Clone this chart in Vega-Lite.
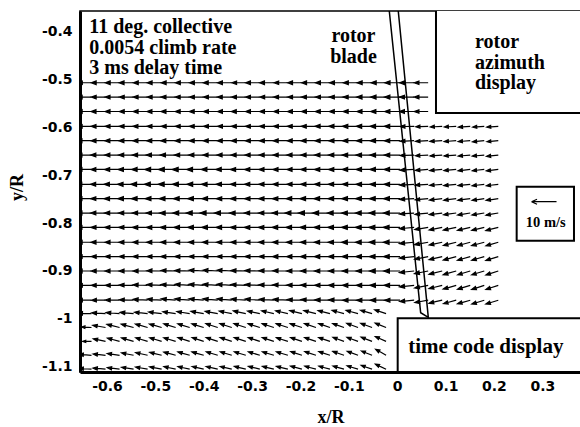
{
"$schema":"https://vega.github.io/schema/vega-lite/v6.json",
"width":501,"height":361,
"autosize":{"type":"none"},
"padding":{"left":80,"top":11,"right":0,"bottom":55},
"background":"white",
"config":{"view":{"stroke":"black","strokeWidth":1.5}},
"datasets":{"vec":[
{"x":-0.632,"y":-0.507,"s":5.6,"a":0},{"x":-0.603,"y":-0.507,"s":5.7,"a":0},{"x":-0.574,"y":-0.507,"s":5.7,"a":0},{"x":-0.545,"y":-0.507,"s":5.8,"a":0},{"x":-0.516,"y":-0.507,"s":5.7,"a":0},{"x":-0.487,"y":-0.507,"s":5.8,"a":0},{"x":-0.458,"y":-0.507,"s":5.8,"a":0},{"x":-0.429,"y":-0.507,"s":5.7,"a":0},{"x":-0.4,"y":-0.507,"s":5.7,"a":0},{"x":-0.371,"y":-0.507,"s":5.8,"a":0},{"x":-0.342,"y":-0.507,"s":5.7,"a":0},{"x":-0.313,"y":-0.507,"s":5.6,"a":0},{"x":-0.284,"y":-0.507,"s":5.7,"a":0},{"x":-0.255,"y":-0.507,"s":5.7,"a":0},{"x":-0.226,"y":-0.507,"s":5.6,"a":0},{"x":-0.197,"y":-0.507,"s":5.7,"a":0},{"x":-0.168,"y":-0.507,"s":5.7,"a":0},{"x":-0.139,"y":-0.507,"s":5.8,"a":0},{"x":-0.11,"y":-0.507,"s":5.8,"a":0},{"x":-0.081,"y":-0.507,"s":5.9,"a":0},{"x":-0.052,"y":-0.507,"s":6.0,"a":0},{"x":-0.023,"y":-0.507,"s":6.0,"a":0},{"x":0.006,"y":-0.507,"s":6.1,"a":0},{"x":0.035,"y":-0.507,"s":5.8,"a":0},{"x":0.064,"y":-0.507,"s":5.6,"a":0},
{"x":-0.632,"y":-0.537,"s":5.7,"a":0},{"x":-0.603,"y":-0.537,"s":5.7,"a":0},{"x":-0.574,"y":-0.537,"s":5.8,"a":0},{"x":-0.545,"y":-0.537,"s":5.7,"a":0},{"x":-0.516,"y":-0.537,"s":5.8,"a":0},{"x":-0.487,"y":-0.537,"s":5.8,"a":0},{"x":-0.458,"y":-0.537,"s":5.9,"a":0},{"x":-0.429,"y":-0.537,"s":5.8,"a":0},{"x":-0.4,"y":-0.537,"s":5.7,"a":0},{"x":-0.371,"y":-0.537,"s":5.7,"a":0},{"x":-0.342,"y":-0.537,"s":5.8,"a":0},{"x":-0.313,"y":-0.537,"s":5.7,"a":0},{"x":-0.284,"y":-0.537,"s":5.7,"a":0},{"x":-0.255,"y":-0.537,"s":5.6,"a":0},{"x":-0.226,"y":-0.537,"s":5.7,"a":0},{"x":-0.197,"y":-0.537,"s":5.7,"a":0},{"x":-0.168,"y":-0.537,"s":5.8,"a":0},{"x":-0.139,"y":-0.537,"s":5.8,"a":0},{"x":-0.11,"y":-0.537,"s":5.9,"a":0},{"x":-0.081,"y":-0.537,"s":6.0,"a":0},{"x":-0.052,"y":-0.537,"s":6.1,"a":0},{"x":-0.023,"y":-0.537,"s":6.1,"a":0},{"x":0.006,"y":-0.537,"s":6.2,"a":0},{"x":0.035,"y":-0.537,"s":5.9,"a":0},{"x":0.064,"y":-0.537,"s":5.6,"a":0},
{"x":-0.632,"y":-0.567,"s":5.7,"a":0},{"x":-0.603,"y":-0.567,"s":5.8,"a":0},{"x":-0.574,"y":-0.567,"s":5.8,"a":0},{"x":-0.545,"y":-0.567,"s":5.7,"a":0},{"x":-0.516,"y":-0.567,"s":5.8,"a":0},{"x":-0.487,"y":-0.567,"s":5.9,"a":0},{"x":-0.458,"y":-0.567,"s":5.9,"a":0},{"x":-0.429,"y":-0.567,"s":5.8,"a":0},{"x":-0.4,"y":-0.567,"s":5.8,"a":0},{"x":-0.371,"y":-0.567,"s":5.7,"a":0},{"x":-0.342,"y":-0.567,"s":5.7,"a":0},{"x":-0.313,"y":-0.567,"s":5.8,"a":0},{"x":-0.284,"y":-0.567,"s":5.7,"a":0},{"x":-0.255,"y":-0.567,"s":5.7,"a":0},{"x":-0.226,"y":-0.567,"s":5.7,"a":0},{"x":-0.197,"y":-0.567,"s":5.8,"a":0},{"x":-0.168,"y":-0.567,"s":5.8,"a":0},{"x":-0.139,"y":-0.567,"s":5.9,"a":0},{"x":-0.11,"y":-0.567,"s":5.9,"a":0},{"x":-0.081,"y":-0.567,"s":6.0,"a":0},{"x":-0.052,"y":-0.567,"s":6.1,"a":0},{"x":-0.023,"y":-0.567,"s":6.2,"a":0},{"x":0.006,"y":-0.567,"s":6.2,"a":0},{"x":0.035,"y":-0.567,"s":5.9,"a":0},{"x":0.064,"y":-0.567,"s":5.6,"a":0},
{"x":-0.632,"y":-0.598,"s":5.7,"a":0},{"x":-0.603,"y":-0.598,"s":5.8,"a":0},{"x":-0.574,"y":-0.598,"s":5.8,"a":0},{"x":-0.545,"y":-0.598,"s":5.8,"a":0},{"x":-0.516,"y":-0.598,"s":5.9,"a":0},{"x":-0.487,"y":-0.598,"s":5.9,"a":0},{"x":-0.458,"y":-0.598,"s":5.8,"a":0},{"x":-0.429,"y":-0.598,"s":5.8,"a":0},{"x":-0.4,"y":-0.598,"s":5.8,"a":0},{"x":-0.371,"y":-0.598,"s":5.7,"a":0},{"x":-0.342,"y":-0.598,"s":5.7,"a":0},{"x":-0.313,"y":-0.598,"s":5.8,"a":0},{"x":-0.284,"y":-0.598,"s":5.8,"a":0},{"x":-0.255,"y":-0.598,"s":5.8,"a":0},{"x":-0.226,"y":-0.598,"s":5.8,"a":0},{"x":-0.197,"y":-0.598,"s":5.9,"a":0},{"x":-0.168,"y":-0.598,"s":5.9,"a":0},{"x":-0.139,"y":-0.598,"s":6.0,"a":0},{"x":-0.11,"y":-0.598,"s":6.1,"a":0},{"x":-0.081,"y":-0.598,"s":6.2,"a":0},{"x":-0.052,"y":-0.598,"s":6.3,"a":0},{"x":-0.023,"y":-0.598,"s":6.4,"a":0},{"x":0.006,"y":-0.598,"s":6.3,"a":0},{"x":0.035,"y":-0.598,"s":5.6,"a":-1},{"x":0.064,"y":-0.598,"s":5.0,"a":-2},{"x":0.093,"y":-0.598,"s":4.8,"a":-3},{"x":0.122,"y":-0.598,"s":4.8,"a":-3},{"x":0.151,"y":-0.598,"s":4.7,"a":-4},{"x":0.18,"y":-0.598,"s":4.6,"a":-4},{"x":0.209,"y":-0.598,"s":4.6,"a":-4},
{"x":-0.632,"y":-0.628,"s":5.8,"a":0},{"x":-0.603,"y":-0.628,"s":5.8,"a":0},{"x":-0.574,"y":-0.628,"s":5.9,"a":0},{"x":-0.545,"y":-0.628,"s":5.9,"a":0},{"x":-0.516,"y":-0.628,"s":5.9,"a":0},{"x":-0.487,"y":-0.628,"s":6.0,"a":0},{"x":-0.458,"y":-0.628,"s":6.0,"a":0},{"x":-0.429,"y":-0.628,"s":5.9,"a":0},{"x":-0.4,"y":-0.628,"s":5.8,"a":0},{"x":-0.371,"y":-0.628,"s":5.8,"a":0},{"x":-0.342,"y":-0.628,"s":5.8,"a":0},{"x":-0.313,"y":-0.628,"s":5.8,"a":0},{"x":-0.284,"y":-0.628,"s":5.8,"a":0},{"x":-0.255,"y":-0.628,"s":5.8,"a":0},{"x":-0.226,"y":-0.628,"s":5.9,"a":0},{"x":-0.197,"y":-0.628,"s":5.9,"a":0},{"x":-0.168,"y":-0.628,"s":6.0,"a":0},{"x":-0.139,"y":-0.628,"s":6.0,"a":0},{"x":-0.11,"y":-0.628,"s":6.1,"a":0},{"x":-0.081,"y":-0.628,"s":6.2,"a":0},{"x":-0.052,"y":-0.628,"s":6.3,"a":0},{"x":-0.023,"y":-0.628,"s":6.4,"a":0},{"x":0.006,"y":-0.628,"s":6.3,"a":0},{"x":0.035,"y":-0.628,"s":5.6,"a":-2},{"x":0.064,"y":-0.628,"s":5.0,"a":-3},{"x":0.093,"y":-0.628,"s":4.9,"a":-3},{"x":0.122,"y":-0.628,"s":4.8,"a":-4},{"x":0.151,"y":-0.628,"s":4.8,"a":-4},{"x":0.18,"y":-0.628,"s":4.7,"a":-5},{"x":0.209,"y":-0.628,"s":4.6,"a":-5},
{"x":-0.632,"y":-0.658,"s":5.8,"a":0},{"x":-0.603,"y":-0.658,"s":5.9,"a":0},{"x":-0.574,"y":-0.658,"s":5.9,"a":0},{"x":-0.545,"y":-0.658,"s":6.0,"a":0},{"x":-0.516,"y":-0.658,"s":6.1,"a":0},{"x":-0.487,"y":-0.658,"s":6.2,"a":0},{"x":-0.458,"y":-0.658,"s":6.2,"a":0},{"x":-0.429,"y":-0.658,"s":6.1,"a":0},{"x":-0.4,"y":-0.658,"s":6.0,"a":0},{"x":-0.371,"y":-0.658,"s":5.9,"a":0},{"x":-0.342,"y":-0.658,"s":5.9,"a":0},{"x":-0.313,"y":-0.658,"s":5.9,"a":0},{"x":-0.284,"y":-0.658,"s":5.9,"a":0},{"x":-0.255,"y":-0.658,"s":5.9,"a":0},{"x":-0.226,"y":-0.658,"s":5.9,"a":0},{"x":-0.197,"y":-0.658,"s":6.0,"a":0},{"x":-0.168,"y":-0.658,"s":6.0,"a":0},{"x":-0.139,"y":-0.658,"s":6.1,"a":0},{"x":-0.11,"y":-0.658,"s":6.2,"a":0},{"x":-0.081,"y":-0.658,"s":6.3,"a":0},{"x":-0.052,"y":-0.658,"s":6.4,"a":0},{"x":-0.023,"y":-0.658,"s":6.4,"a":0},{"x":0.006,"y":-0.658,"s":6.3,"a":0},{"x":0.035,"y":-0.658,"s":5.6,"a":-2},{"x":0.064,"y":-0.658,"s":5.1,"a":-3},{"x":0.093,"y":-0.658,"s":4.9,"a":-4},{"x":0.122,"y":-0.658,"s":4.9,"a":-4},{"x":0.151,"y":-0.658,"s":4.8,"a":-5},{"x":0.18,"y":-0.658,"s":4.8,"a":-5},{"x":0.209,"y":-0.658,"s":4.7,"a":-6},
{"x":-0.632,"y":-0.688,"s":5.8,"a":0},{"x":-0.603,"y":-0.688,"s":5.9,"a":0},{"x":-0.574,"y":-0.688,"s":6.0,"a":0},{"x":-0.545,"y":-0.688,"s":6.2,"a":0},{"x":-0.516,"y":-0.688,"s":6.4,"a":0},{"x":-0.487,"y":-0.688,"s":6.7,"a":0},{"x":-0.458,"y":-0.688,"s":6.9,"a":0},{"x":-0.429,"y":-0.688,"s":7.0,"a":0},{"x":-0.4,"y":-0.688,"s":6.8,"a":0},{"x":-0.371,"y":-0.688,"s":6.6,"a":0},{"x":-0.342,"y":-0.688,"s":6.4,"a":0},{"x":-0.313,"y":-0.688,"s":6.2,"a":0},{"x":-0.284,"y":-0.688,"s":6.1,"a":0},{"x":-0.255,"y":-0.688,"s":6.0,"a":0},{"x":-0.226,"y":-0.688,"s":6.0,"a":0},{"x":-0.197,"y":-0.688,"s":6.0,"a":0},{"x":-0.168,"y":-0.688,"s":6.1,"a":0},{"x":-0.139,"y":-0.688,"s":6.2,"a":0},{"x":-0.11,"y":-0.688,"s":6.2,"a":0},{"x":-0.081,"y":-0.688,"s":6.3,"a":0},{"x":-0.052,"y":-0.688,"s":6.4,"a":0},{"x":-0.023,"y":-0.688,"s":6.5,"a":0},{"x":0.006,"y":-0.688,"s":6.4,"a":0},{"x":0.035,"y":-0.688,"s":5.7,"a":-3},{"x":0.064,"y":-0.688,"s":5.1,"a":-4},{"x":0.093,"y":-0.688,"s":5.0,"a":-5},{"x":0.122,"y":-0.688,"s":4.9,"a":-5},{"x":0.151,"y":-0.688,"s":4.9,"a":-6},{"x":0.18,"y":-0.688,"s":4.8,"a":-6},{"x":0.209,"y":-0.688,"s":4.8,"a":-7},
{"x":-0.632,"y":-0.719,"s":5.9,"a":0},{"x":-0.603,"y":-0.719,"s":6.0,"a":0},{"x":-0.574,"y":-0.719,"s":6.2,"a":0},{"x":-0.545,"y":-0.719,"s":6.4,"a":0},{"x":-0.516,"y":-0.719,"s":6.7,"a":0},{"x":-0.487,"y":-0.719,"s":6.9,"a":0},{"x":-0.458,"y":-0.719,"s":7.0,"a":0},{"x":-0.429,"y":-0.719,"s":6.9,"a":0},{"x":-0.4,"y":-0.719,"s":6.7,"a":0},{"x":-0.371,"y":-0.719,"s":6.5,"a":0},{"x":-0.342,"y":-0.719,"s":6.3,"a":0},{"x":-0.313,"y":-0.719,"s":6.2,"a":0},{"x":-0.284,"y":-0.719,"s":6.1,"a":0},{"x":-0.255,"y":-0.719,"s":6.0,"a":0},{"x":-0.226,"y":-0.719,"s":6.0,"a":0},{"x":-0.197,"y":-0.719,"s":6.0,"a":0},{"x":-0.168,"y":-0.719,"s":6.1,"a":0},{"x":-0.139,"y":-0.719,"s":6.2,"a":0},{"x":-0.11,"y":-0.719,"s":6.3,"a":0},{"x":-0.081,"y":-0.719,"s":6.3,"a":0},{"x":-0.052,"y":-0.719,"s":6.4,"a":0},{"x":-0.023,"y":-0.719,"s":6.5,"a":0},{"x":0.006,"y":-0.719,"s":6.4,"a":0},{"x":0.035,"y":-0.719,"s":5.7,"a":-3},{"x":0.064,"y":-0.719,"s":5.2,"a":-4},{"x":0.093,"y":-0.719,"s":5.0,"a":-5},{"x":0.122,"y":-0.719,"s":5.0,"a":-6},{"x":0.151,"y":-0.719,"s":4.9,"a":-6},{"x":0.18,"y":-0.719,"s":4.9,"a":-7},{"x":0.209,"y":-0.719,"s":4.8,"a":-7},
{"x":-0.632,"y":-0.749,"s":5.8,"a":0},{"x":-0.603,"y":-0.749,"s":5.9,"a":0},{"x":-0.574,"y":-0.749,"s":6.1,"a":0},{"x":-0.545,"y":-0.749,"s":6.2,"a":0},{"x":-0.516,"y":-0.749,"s":6.4,"a":0},{"x":-0.487,"y":-0.749,"s":6.5,"a":0},{"x":-0.458,"y":-0.749,"s":6.5,"a":0},{"x":-0.429,"y":-0.749,"s":6.4,"a":0},{"x":-0.4,"y":-0.749,"s":6.3,"a":0},{"x":-0.371,"y":-0.749,"s":6.2,"a":0},{"x":-0.342,"y":-0.749,"s":6.1,"a":0},{"x":-0.313,"y":-0.749,"s":6.1,"a":0},{"x":-0.284,"y":-0.749,"s":6.0,"a":0},{"x":-0.255,"y":-0.749,"s":6.0,"a":0},{"x":-0.226,"y":-0.749,"s":6.1,"a":0},{"x":-0.197,"y":-0.749,"s":6.2,"a":0},{"x":-0.168,"y":-0.749,"s":6.3,"a":0},{"x":-0.139,"y":-0.749,"s":6.3,"a":0},{"x":-0.11,"y":-0.749,"s":6.3,"a":0},{"x":-0.081,"y":-0.749,"s":6.4,"a":0},{"x":-0.052,"y":-0.749,"s":6.5,"a":0},{"x":-0.023,"y":-0.749,"s":6.6,"a":0},{"x":0.006,"y":-0.749,"s":6.5,"a":0},{"x":0.035,"y":-0.749,"s":5.8,"a":-3},{"x":0.064,"y":-0.749,"s":5.2,"a":-5},{"x":0.093,"y":-0.749,"s":5.1,"a":-6},{"x":0.122,"y":-0.749,"s":5.0,"a":-7},{"x":0.151,"y":-0.749,"s":5.0,"a":-7},{"x":0.18,"y":-0.749,"s":4.9,"a":-8},{"x":0.209,"y":-0.749,"s":4.9,"a":-8},
{"x":-0.632,"y":-0.779,"s":5.8,"a":0},{"x":-0.603,"y":-0.779,"s":5.9,"a":0},{"x":-0.574,"y":-0.779,"s":6.0,"a":0},{"x":-0.545,"y":-0.779,"s":6.0,"a":0},{"x":-0.516,"y":-0.779,"s":6.1,"a":0},{"x":-0.487,"y":-0.779,"s":6.2,"a":0},{"x":-0.458,"y":-0.779,"s":6.4,"a":0},{"x":-0.429,"y":-0.779,"s":6.7,"a":0},{"x":-0.4,"y":-0.779,"s":7.0,"a":0},{"x":-0.371,"y":-0.779,"s":7.1,"a":0},{"x":-0.342,"y":-0.779,"s":6.9,"a":0},{"x":-0.313,"y":-0.779,"s":6.5,"a":0},{"x":-0.284,"y":-0.779,"s":6.2,"a":0},{"x":-0.255,"y":-0.779,"s":6.1,"a":0},{"x":-0.226,"y":-0.779,"s":6.3,"a":0},{"x":-0.197,"y":-0.779,"s":6.7,"a":0},{"x":-0.168,"y":-0.779,"s":7.0,"a":0},{"x":-0.139,"y":-0.779,"s":6.9,"a":0},{"x":-0.11,"y":-0.779,"s":6.6,"a":0},{"x":-0.081,"y":-0.779,"s":6.5,"a":0},{"x":-0.052,"y":-0.779,"s":6.6,"a":0},{"x":-0.023,"y":-0.779,"s":6.8,"a":0},{"x":0.006,"y":-0.779,"s":6.6,"a":0},{"x":0.035,"y":-0.779,"s":5.8,"a":-4},{"x":0.064,"y":-0.779,"s":5.3,"a":-6},{"x":0.093,"y":-0.779,"s":5.2,"a":-7},{"x":0.122,"y":-0.779,"s":5.1,"a":-8},{"x":0.151,"y":-0.779,"s":5.1,"a":-9},{"x":0.18,"y":-0.779,"s":5.0,"a":-9},{"x":0.209,"y":-0.779,"s":5.0,"a":-10},
{"x":-0.632,"y":-0.809,"s":5.8,"a":0},{"x":-0.603,"y":-0.809,"s":5.8,"a":0},{"x":-0.574,"y":-0.809,"s":5.9,"a":0},{"x":-0.545,"y":-0.809,"s":5.9,"a":0},{"x":-0.516,"y":-0.809,"s":6.0,"a":0},{"x":-0.487,"y":-0.809,"s":6.0,"a":0},{"x":-0.458,"y":-0.809,"s":6.1,"a":0},{"x":-0.429,"y":-0.809,"s":6.2,"a":0},{"x":-0.4,"y":-0.809,"s":6.3,"a":0},{"x":-0.371,"y":-0.809,"s":6.3,"a":0},{"x":-0.342,"y":-0.809,"s":6.2,"a":0},{"x":-0.313,"y":-0.809,"s":6.1,"a":0},{"x":-0.284,"y":-0.809,"s":6.1,"a":0},{"x":-0.255,"y":-0.809,"s":6.1,"a":0},{"x":-0.226,"y":-0.809,"s":6.2,"a":0},{"x":-0.197,"y":-0.809,"s":6.3,"a":0},{"x":-0.168,"y":-0.809,"s":6.3,"a":0},{"x":-0.139,"y":-0.809,"s":6.3,"a":0},{"x":-0.11,"y":-0.809,"s":6.4,"a":0},{"x":-0.081,"y":-0.809,"s":6.5,"a":0},{"x":-0.052,"y":-0.809,"s":6.6,"a":0},{"x":-0.023,"y":-0.809,"s":6.8,"a":0},{"x":0.006,"y":-0.809,"s":6.7,"a":0},{"x":0.035,"y":-0.809,"s":5.9,"a":-5},{"x":0.064,"y":-0.809,"s":5.4,"a":-9},{"x":0.093,"y":-0.809,"s":5.3,"a":-11},{"x":0.122,"y":-0.809,"s":5.2,"a":-12},{"x":0.151,"y":-0.809,"s":5.2,"a":-13},{"x":0.18,"y":-0.809,"s":5.1,"a":-13},{"x":0.209,"y":-0.809,"s":5.1,"a":-14},
{"x":-0.632,"y":-0.84,"s":5.7,"a":0},{"x":-0.603,"y":-0.84,"s":5.8,"a":0},{"x":-0.574,"y":-0.84,"s":5.8,"a":0},{"x":-0.545,"y":-0.84,"s":5.9,"a":0},{"x":-0.516,"y":-0.84,"s":5.9,"a":0},{"x":-0.487,"y":-0.84,"s":6.0,"a":0},{"x":-0.458,"y":-0.84,"s":6.0,"a":0},{"x":-0.429,"y":-0.84,"s":6.1,"a":0},{"x":-0.4,"y":-0.84,"s":6.1,"a":0},{"x":-0.371,"y":-0.84,"s":6.1,"a":0},{"x":-0.342,"y":-0.84,"s":6.1,"a":0},{"x":-0.313,"y":-0.84,"s":6.0,"a":0},{"x":-0.284,"y":-0.84,"s":6.0,"a":0},{"x":-0.255,"y":-0.84,"s":6.1,"a":0},{"x":-0.226,"y":-0.84,"s":6.1,"a":0},{"x":-0.197,"y":-0.84,"s":6.2,"a":0},{"x":-0.168,"y":-0.84,"s":6.2,"a":0},{"x":-0.139,"y":-0.84,"s":6.3,"a":0},{"x":-0.11,"y":-0.84,"s":6.4,"a":0},{"x":-0.081,"y":-0.84,"s":6.5,"a":0},{"x":-0.052,"y":-0.84,"s":6.6,"a":0},{"x":-0.023,"y":-0.84,"s":6.8,"a":0},{"x":0.006,"y":-0.84,"s":6.7,"a":0},{"x":0.035,"y":-0.84,"s":5.9,"a":-5},{"x":0.064,"y":-0.84,"s":5.5,"a":-10},{"x":0.093,"y":-0.84,"s":5.3,"a":-12},{"x":0.122,"y":-0.84,"s":5.3,"a":-14},{"x":0.151,"y":-0.84,"s":5.2,"a":-15},{"x":0.18,"y":-0.84,"s":5.2,"a":-15},{"x":0.209,"y":-0.84,"s":5.1,"a":-16},
{"x":-0.632,"y":-0.87,"s":5.7,"a":0},{"x":-0.603,"y":-0.87,"s":5.7,"a":0},{"x":-0.574,"y":-0.87,"s":5.8,"a":0},{"x":-0.545,"y":-0.87,"s":5.8,"a":0},{"x":-0.516,"y":-0.87,"s":5.9,"a":0},{"x":-0.487,"y":-0.87,"s":5.9,"a":0},{"x":-0.458,"y":-0.87,"s":6.0,"a":0},{"x":-0.429,"y":-0.87,"s":6.0,"a":0},{"x":-0.4,"y":-0.87,"s":6.0,"a":0},{"x":-0.371,"y":-0.87,"s":6.0,"a":0},{"x":-0.342,"y":-0.87,"s":6.0,"a":0},{"x":-0.313,"y":-0.87,"s":6.0,"a":0},{"x":-0.284,"y":-0.87,"s":6.0,"a":0},{"x":-0.255,"y":-0.87,"s":6.0,"a":0},{"x":-0.226,"y":-0.87,"s":6.1,"a":0},{"x":-0.197,"y":-0.87,"s":6.1,"a":0},{"x":-0.168,"y":-0.87,"s":6.2,"a":0},{"x":-0.139,"y":-0.87,"s":6.2,"a":0},{"x":-0.11,"y":-0.87,"s":6.3,"a":0},{"x":-0.081,"y":-0.87,"s":6.4,"a":0},{"x":-0.052,"y":-0.87,"s":6.5,"a":0},{"x":-0.023,"y":-0.87,"s":6.7,"a":0},{"x":0.006,"y":-0.87,"s":6.6,"a":0},{"x":0.035,"y":-0.87,"s":5.9,"a":-6},{"x":0.064,"y":-0.87,"s":5.5,"a":-11},{"x":0.093,"y":-0.87,"s":5.4,"a":-13},{"x":0.122,"y":-0.87,"s":5.3,"a":-15},{"x":0.151,"y":-0.87,"s":5.3,"a":-16},{"x":0.18,"y":-0.87,"s":5.2,"a":-16},{"x":0.209,"y":-0.87,"s":5.2,"a":-17},
{"x":-0.632,"y":-0.9,"s":5.7,"a":0},{"x":-0.603,"y":-0.9,"s":5.7,"a":0},{"x":-0.574,"y":-0.9,"s":5.8,"a":0},{"x":-0.545,"y":-0.9,"s":5.8,"a":0},{"x":-0.516,"y":-0.9,"s":5.8,"a":0},{"x":-0.487,"y":-0.9,"s":5.9,"a":1},{"x":-0.458,"y":-0.9,"s":5.9,"a":2},{"x":-0.429,"y":-0.9,"s":6.0,"a":2},{"x":-0.4,"y":-0.9,"s":6.0,"a":3},{"x":-0.371,"y":-0.9,"s":6.0,"a":3},{"x":-0.342,"y":-0.9,"s":6.0,"a":3},{"x":-0.313,"y":-0.9,"s":6.0,"a":2},{"x":-0.284,"y":-0.9,"s":6.0,"a":2},{"x":-0.255,"y":-0.9,"s":6.0,"a":1},{"x":-0.226,"y":-0.9,"s":6.0,"a":1},{"x":-0.197,"y":-0.9,"s":6.1,"a":0},{"x":-0.168,"y":-0.9,"s":6.1,"a":0},{"x":-0.139,"y":-0.9,"s":6.2,"a":0},{"x":-0.11,"y":-0.9,"s":6.2,"a":0},{"x":-0.081,"y":-0.9,"s":6.3,"a":0},{"x":-0.052,"y":-0.9,"s":6.4,"a":0},{"x":-0.023,"y":-0.9,"s":6.6,"a":0},{"x":0.006,"y":-0.9,"s":6.5,"a":0},{"x":0.035,"y":-0.9,"s":5.9,"a":-6},{"x":0.064,"y":-0.9,"s":5.5,"a":-11},{"x":0.093,"y":-0.9,"s":5.4,"a":-14},{"x":0.122,"y":-0.9,"s":5.4,"a":-16},{"x":0.151,"y":-0.9,"s":5.3,"a":-17},{"x":0.18,"y":-0.9,"s":5.3,"a":-17},{"x":0.209,"y":-0.9,"s":5.2,"a":-18},
{"x":-0.632,"y":-0.93,"s":5.6,"a":0},{"x":-0.603,"y":-0.93,"s":5.7,"a":0},{"x":-0.574,"y":-0.93,"s":5.7,"a":0},{"x":-0.545,"y":-0.93,"s":5.8,"a":1},{"x":-0.516,"y":-0.93,"s":5.8,"a":2},{"x":-0.487,"y":-0.93,"s":5.9,"a":3},{"x":-0.458,"y":-0.93,"s":5.9,"a":3},{"x":-0.429,"y":-0.93,"s":5.9,"a":4},{"x":-0.4,"y":-0.93,"s":6.0,"a":4},{"x":-0.371,"y":-0.93,"s":6.0,"a":4},{"x":-0.342,"y":-0.93,"s":6.0,"a":4},{"x":-0.313,"y":-0.93,"s":6.0,"a":3},{"x":-0.284,"y":-0.93,"s":6.0,"a":3},{"x":-0.255,"y":-0.93,"s":6.0,"a":2},{"x":-0.226,"y":-0.93,"s":6.0,"a":2},{"x":-0.197,"y":-0.93,"s":6.0,"a":1},{"x":-0.168,"y":-0.93,"s":6.1,"a":1},{"x":-0.139,"y":-0.93,"s":6.1,"a":0},{"x":-0.11,"y":-0.93,"s":6.2,"a":0},{"x":-0.081,"y":-0.93,"s":6.2,"a":0},{"x":-0.052,"y":-0.93,"s":6.3,"a":0},{"x":-0.023,"y":-0.93,"s":6.5,"a":0},{"x":0.006,"y":-0.93,"s":6.4,"a":0},{"x":0.035,"y":-0.93,"s":5.9,"a":-6},{"x":0.064,"y":-0.93,"s":5.5,"a":-11},{"x":0.093,"y":-0.93,"s":5.4,"a":-14},{"x":0.122,"y":-0.93,"s":5.4,"a":-16},{"x":0.151,"y":-0.93,"s":5.3,"a":-17},{"x":0.18,"y":-0.93,"s":5.3,"a":-18},{"x":0.209,"y":-0.93,"s":5.2,"a":-18},
{"x":-0.632,"y":-0.961,"s":5.6,"a":0},{"x":-0.603,"y":-0.961,"s":5.6,"a":0},{"x":-0.574,"y":-0.961,"s":5.7,"a":1},{"x":-0.545,"y":-0.961,"s":5.7,"a":2},{"x":-0.516,"y":-0.961,"s":5.8,"a":3},{"x":-0.487,"y":-0.961,"s":5.8,"a":4},{"x":-0.458,"y":-0.961,"s":5.8,"a":5},{"x":-0.429,"y":-0.961,"s":5.9,"a":5},{"x":-0.4,"y":-0.961,"s":5.9,"a":5},{"x":-0.371,"y":-0.961,"s":5.9,"a":5},{"x":-0.342,"y":-0.961,"s":5.9,"a":5},{"x":-0.313,"y":-0.961,"s":5.9,"a":4},{"x":-0.284,"y":-0.961,"s":5.9,"a":4},{"x":-0.255,"y":-0.961,"s":5.9,"a":3},{"x":-0.226,"y":-0.961,"s":5.9,"a":3},{"x":-0.197,"y":-0.961,"s":5.9,"a":2},{"x":-0.168,"y":-0.961,"s":6.0,"a":2},{"x":-0.139,"y":-0.961,"s":6.0,"a":1},{"x":-0.11,"y":-0.961,"s":6.1,"a":1},{"x":-0.081,"y":-0.961,"s":6.1,"a":0},{"x":-0.052,"y":-0.961,"s":6.2,"a":0},{"x":-0.023,"y":-0.961,"s":6.3,"a":0},{"x":0.006,"y":-0.961,"s":6.2,"a":0},{"x":0.035,"y":-0.961,"s":5.8,"a":-5},{"x":0.064,"y":-0.961,"s":5.4,"a":-10},{"x":0.093,"y":-0.961,"s":5.4,"a":-13},{"x":0.122,"y":-0.961,"s":5.3,"a":-15},{"x":0.151,"y":-0.961,"s":5.3,"a":-16},{"x":0.18,"y":-0.961,"s":5.2,"a":-17},{"x":0.209,"y":-0.961,"s":5.2,"a":-17},
{"x":-0.632,"y":-0.989,"s":5.5,"a":2},{"x":-0.603,"y":-0.989,"s":5.5,"a":3},{"x":-0.574,"y":-0.989,"s":5.4,"a":4},{"x":-0.545,"y":-0.989,"s":5.4,"a":5},{"x":-0.516,"y":-0.989,"s":5.3,"a":6},{"x":-0.487,"y":-0.989,"s":5.3,"a":7},{"x":-0.458,"y":-0.989,"s":5.2,"a":8},{"x":-0.429,"y":-0.989,"s":5.2,"a":9},{"x":-0.4,"y":-0.989,"s":5.2,"a":10},{"x":-0.371,"y":-0.989,"s":5.1,"a":10},{"x":-0.342,"y":-0.989,"s":5.1,"a":11},{"x":-0.313,"y":-0.989,"s":5.1,"a":12},{"x":-0.284,"y":-0.989,"s":5.0,"a":12},{"x":-0.255,"y":-0.989,"s":5.0,"a":13},{"x":-0.226,"y":-0.989,"s":5.0,"a":13},{"x":-0.197,"y":-0.989,"s":5.0,"a":14},{"x":-0.168,"y":-0.989,"s":5.0,"a":14},{"x":-0.139,"y":-0.989,"s":4.9,"a":14},{"x":-0.11,"y":-0.989,"s":4.9,"a":15},{"x":-0.081,"y":-0.989,"s":4.9,"a":15},{"x":-0.052,"y":-0.989,"s":4.8,"a":16},{"x":-0.023,"y":-0.989,"s":4.8,"a":18},
{"x":-0.632,"y":-1.018,"s":4.0,"a":3},{"x":-0.603,"y":-1.018,"s":5.2,"a":10},{"x":-0.574,"y":-1.018,"s":5.2,"a":14},{"x":-0.545,"y":-1.018,"s":5.1,"a":15},{"x":-0.516,"y":-1.018,"s":5.1,"a":16},{"x":-0.487,"y":-1.018,"s":5.1,"a":16},{"x":-0.458,"y":-1.018,"s":5.0,"a":17},{"x":-0.429,"y":-1.018,"s":5.0,"a":17},{"x":-0.4,"y":-1.018,"s":5.0,"a":17},{"x":-0.371,"y":-1.018,"s":5.0,"a":18},{"x":-0.342,"y":-1.018,"s":5.0,"a":18},{"x":-0.313,"y":-1.018,"s":5.0,"a":18},{"x":-0.284,"y":-1.018,"s":4.9,"a":18},{"x":-0.255,"y":-1.018,"s":4.9,"a":18},{"x":-0.226,"y":-1.018,"s":4.9,"a":18},{"x":-0.197,"y":-1.018,"s":4.9,"a":18},{"x":-0.168,"y":-1.018,"s":4.9,"a":19},{"x":-0.139,"y":-1.018,"s":4.8,"a":19},{"x":-0.11,"y":-1.018,"s":4.8,"a":19},{"x":-0.081,"y":-1.018,"s":4.8,"a":20},{"x":-0.052,"y":-1.018,"s":4.8,"a":20},{"x":-0.023,"y":-1.018,"s":4.7,"a":22},
{"x":-0.632,"y":-1.047,"s":3.5,"a":0},{"x":-0.603,"y":-1.047,"s":5.0,"a":12},{"x":-0.574,"y":-1.047,"s":5.0,"a":15},{"x":-0.545,"y":-1.047,"s":5.0,"a":16},{"x":-0.516,"y":-1.047,"s":5.0,"a":17},{"x":-0.487,"y":-1.047,"s":5.0,"a":17},{"x":-0.458,"y":-1.047,"s":5.0,"a":17},{"x":-0.429,"y":-1.047,"s":5.0,"a":18},{"x":-0.4,"y":-1.047,"s":4.9,"a":18},{"x":-0.371,"y":-1.047,"s":4.9,"a":18},{"x":-0.342,"y":-1.047,"s":4.9,"a":18},{"x":-0.313,"y":-1.047,"s":4.9,"a":18},{"x":-0.284,"y":-1.047,"s":4.9,"a":18},{"x":-0.255,"y":-1.047,"s":4.9,"a":18},{"x":-0.226,"y":-1.047,"s":4.8,"a":18},{"x":-0.197,"y":-1.047,"s":4.8,"a":19},{"x":-0.168,"y":-1.047,"s":4.8,"a":19},{"x":-0.139,"y":-1.047,"s":4.8,"a":19},{"x":-0.11,"y":-1.047,"s":4.7,"a":20},{"x":-0.081,"y":-1.047,"s":4.7,"a":20},{"x":-0.052,"y":-1.047,"s":4.7,"a":21},{"x":-0.023,"y":-1.047,"s":4.7,"a":24},
{"x":-0.632,"y":-1.076,"s":5.0,"a":4},{"x":-0.603,"y":-1.076,"s":5.0,"a":6},{"x":-0.574,"y":-1.076,"s":5.0,"a":8},{"x":-0.545,"y":-1.076,"s":4.9,"a":11},{"x":-0.516,"y":-1.076,"s":4.9,"a":13},{"x":-0.487,"y":-1.076,"s":4.9,"a":14},{"x":-0.458,"y":-1.076,"s":4.9,"a":15},{"x":-0.429,"y":-1.076,"s":4.9,"a":16},{"x":-0.4,"y":-1.076,"s":4.9,"a":16},{"x":-0.371,"y":-1.076,"s":4.8,"a":17},{"x":-0.342,"y":-1.076,"s":4.8,"a":17},{"x":-0.313,"y":-1.076,"s":4.8,"a":17},{"x":-0.284,"y":-1.076,"s":4.8,"a":17},{"x":-0.255,"y":-1.076,"s":4.8,"a":17},{"x":-0.226,"y":-1.076,"s":4.8,"a":17},{"x":-0.197,"y":-1.076,"s":4.7,"a":18},{"x":-0.168,"y":-1.076,"s":4.7,"a":18},{"x":-0.139,"y":-1.076,"s":4.7,"a":18},{"x":-0.11,"y":-1.076,"s":4.7,"a":19},{"x":-0.081,"y":-1.076,"s":4.6,"a":20},{"x":-0.052,"y":-1.076,"s":4.6,"a":22},{"x":-0.023,"y":-1.076,"s":4.8,"a":30},
{"x":-0.632,"y":-1.105,"s":5.0,"a":3},{"x":-0.603,"y":-1.105,"s":5.0,"a":5},{"x":-0.574,"y":-1.105,"s":4.9,"a":7},{"x":-0.545,"y":-1.105,"s":4.9,"a":9},{"x":-0.516,"y":-1.105,"s":4.9,"a":10},{"x":-0.487,"y":-1.105,"s":4.9,"a":11},{"x":-0.458,"y":-1.105,"s":4.8,"a":12},{"x":-0.429,"y":-1.105,"s":4.8,"a":12},{"x":-0.4,"y":-1.105,"s":4.8,"a":13},{"x":-0.371,"y":-1.105,"s":4.8,"a":13},{"x":-0.342,"y":-1.105,"s":4.8,"a":13},{"x":-0.313,"y":-1.105,"s":4.7,"a":14},{"x":-0.284,"y":-1.105,"s":4.7,"a":14},{"x":-0.255,"y":-1.105,"s":4.7,"a":14},{"x":-0.226,"y":-1.105,"s":4.7,"a":14},{"x":-0.197,"y":-1.105,"s":4.7,"a":15},{"x":-0.168,"y":-1.105,"s":4.6,"a":15},{"x":-0.139,"y":-1.105,"s":4.6,"a":15},{"x":-0.11,"y":-1.105,"s":4.6,"a":16},{"x":-0.081,"y":-1.105,"s":4.6,"a":17},{"x":-0.052,"y":-1.105,"s":4.6,"a":19},{"x":-0.023,"y":-1.105,"s":4.7,"a":25}
]},
"layer":[
{"data":{"name":"vec"},
 "mark":{"type":"point","shape":"M-1,0L-0.66,-0.125L-0.66,0.125ZM-0.66,0L0,0","filled":true,"fill":"black","stroke":"black","strokeWidth":1.2,"opacity":1,"clip":true},
 "encoding":{
  "x":{"field":"x","type":"quantitative","scale":{"domain":[-0.6558,0.38],"nice":false,"zero":false},
   "axis":{"title":"x/R","values":[-0.6,-0.5,-0.4,-0.3,-0.2,-0.1,0,0.1,0.2,0.3],"labelExpr":"'' + datum.value","grid":false,"ticks":false,"tickSize":0,"domainColor":"black","domainWidth":3,"labelFont":"DejaVu Sans","labelFontWeight":"bold","labelFontSize":14,"labelColor":"black","labelPadding":7,"labelFlush":false,"labelOverlap":false,"titleFont":"Liberation Serif","titleFontSize":18,"titleFontWeight":"bold","titleColor":"black","titleY":50,"titleBaseline":"alphabetic","zindex":1}},
  "y":{"field":"y","type":"quantitative","scale":{"domain":[-1.1109,-0.3572],"nice":false,"zero":false},
   "axis":{"title":"y/R","values":[-1.1,-1,-0.9,-0.8,-0.7,-0.6,-0.5,-0.4],"labelExpr":"'' + datum.value","grid":false,"ticks":false,"tickSize":0,"domainColor":"black","domainWidth":3,"labelFont":"DejaVu Sans","labelFontWeight":"bold","labelFontSize":14,"labelColor":"black","labelPadding":8,"labelFlush":false,"labelOverlap":false,"titleFont":"Liberation Serif","titleFontSize":18,"titleFontWeight":"bold","titleColor":"black","titleAngle":-90,"titleX":-58,"titleY":176,"titleAlign":"center","titleBaseline":"alphabetic","zindex":1}},
  "size":{"field":"s","type":"quantitative","scale":{"type":"pow","exponent":2,"domain":[0,10],"range":[0,2500]},"legend":null},
  "angle":{"field":"a","type":"quantitative","scale":null}
 }},
{"data":{"values":[{"x":-0.0171,"y":-0.35,"o":1},{"x":0.0485,"y":-0.9871,"o":2},{"x":0.0643,"y":-0.9967,"o":3},{"x":0.0015,"y":-0.35,"o":4}]},
 "mark":{"type":"line","color":"black","strokeWidth":1.5,"clip":true},
 "encoding":{"x":{"field":"x","type":"quantitative"},"y":{"field":"y","type":"quantitative"},"order":{"field":"o","type":"quantitative"}}},
{"data":{"values":[{"box":"rotor azimuth display"}]},
 "mark":{"type":"rect","fill":"white","stroke":"black","strokeWidth":2,"clip":true},
 "encoding":{"x":{"datum":0.0802},"x2":{"datum":0.6},"y":{"datum":-0.5701},"y2":{"datum":-0.3}}},
{"data":{"values":[{"box":"velocity scale"}]},
 "mark":{"type":"rect","fill":"white","stroke":"black","strokeWidth":2,"clip":true},
 "encoding":{"x":{"datum":0.247},"x2":{"datum":0.3655},"y":{"datum":-0.724},"y2":{"datum":-0.8368}}},
{"data":{"values":[{"box":"time code display"}]},
 "mark":{"type":"rect","fill":"white","stroke":"black","strokeWidth":2,"clip":true},
 "encoding":{"x":{"datum":0.001},"x2":{"datum":0.6},"y":{"datum":-0.9987},"y2":{"datum":-1.3}}},
{"data":{"values":[{"s":10,"a":0}]},
 "mark":{"type":"point","shape":"M-1,0L-0.78,-0.1M-1,0L-0.78,0.1M-1,0L0,0","filled":false,"stroke":"black","strokeWidth":1.2,"opacity":1},
 "encoding":{"x":{"datum":0.3294},"y":{"datum":-0.7553},"size":{"field":"s","type":"quantitative"},"angle":{"field":"a","type":"quantitative","scale":null}}},
{"data":{"values":[{"t":"11 deg. collective\n0.0054 climb rate\n3 ms delay time"}]},
 "mark":{"type":"text","align":"left","baseline":"alphabetic","font":"Liberation Serif","fontSize":20,"fontWeight":"bold","lineBreak":"\n","lineHeight":20.5,"color":"black"},
 "encoding":{"x":{"datum":-0.6366},"y":{"datum":-0.4038},"text":{"field":"t"}}},
{"data":{"values":[{"t":"rotor\nblade"}]},
 "mark":{"type":"text","align":"center","baseline":"alphabetic","font":"Liberation Serif","fontSize":20,"fontWeight":"bold","lineBreak":"\n","lineHeight":21,"color":"black"},
 "encoding":{"x":{"datum":-0.0904},"y":{"datum":-0.4213},"text":{"field":"t"}}},
{"data":{"values":[{"t":"rotor\nazimuth\ndisplay"}]},
 "mark":{"type":"text","align":"left","baseline":"alphabetic","font":"Liberation Serif","fontSize":20,"fontWeight":"bold","lineBreak":"\n","lineHeight":20.5,"color":"black"},
 "encoding":{"x":{"datum":0.1608},"y":{"datum":-0.4351},"text":{"field":"t"}}},
{"data":{"values":[{"t":"time code display"}]},
 "mark":{"type":"text","align":"left","baseline":"alphabetic","font":"Liberation Serif","fontSize":21,"fontWeight":"bold","color":"black"},
 "encoding":{"x":{"datum":0.0229},"y":{"datum":-1.0706},"text":{"field":"t"}}},
{"data":{"values":[{"t":"10 m/s"}]},
 "mark":{"type":"text","align":"center","baseline":"alphabetic","font":"Liberation Serif","fontSize":14.5,"fontWeight":"bold","color":"black"},
 "encoding":{"x":{"datum":0.3072},"y":{"datum":-0.8075},"text":{"field":"t"}}}
]
}
